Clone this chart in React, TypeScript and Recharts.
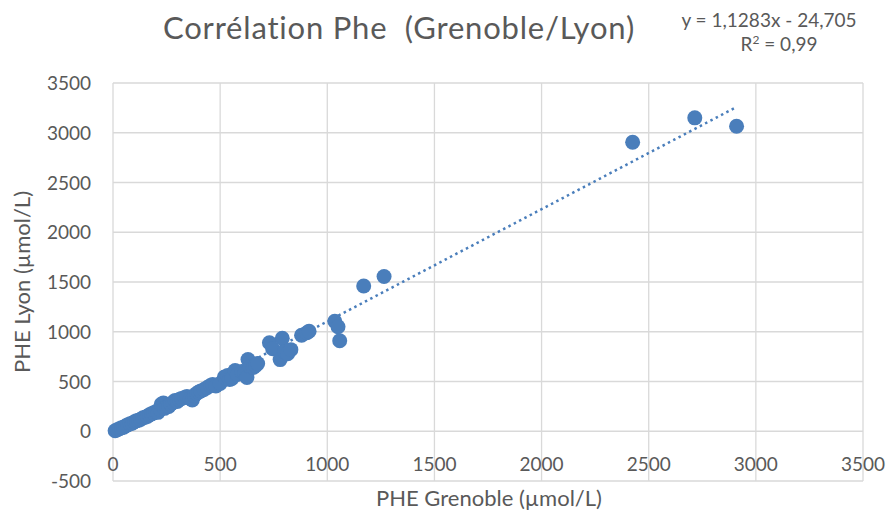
import { ScatterChart, Scatter, XAxis, YAxis, CartesianGrid, ReferenceLine } from "recharts"

// PHE measured in Grenoble (x) vs Lyon (y), µmol/L
const grenoble = [
  10, 20, 30, 40, 50, 60, 70, 80, 90, 100, 110, 120, 130, 140, 150, 160, 170, 180, 190, 200,
  210, 220, 225, 235, 240, 250, 260, 270, 280, 290, 300, 310, 320, 335, 345, 360, 370, 380, 390, 400,
  410, 425, 440, 455, 465, 480, 500, 520, 535, 545, 555, 570, 580, 600, 615, 625, 630, 640, 655, 665,
  675, 730, 745, 780, 790, 800, 815, 830, 880, 905, 915, 1035, 1050, 1058, 1170, 1265, 2425, 2715, 2910,
]
const lyon = [
  5, 15, 25, 35, 40, 55, 65, 75, 80, 95, 105, 110, 120, 135, 140, 150, 165, 175, 185, 195,
  190, 220, 270, 285, 230, 245, 250, 275, 290, 310, 300, 320, 330, 340, 350, 330, 315, 360, 380, 395,
  405, 420, 440, 460, 470, 455, 480, 545, 560, 520, 530, 610, 570, 600, 580, 540, 720, 650, 640, 660,
  680, 890, 830, 720, 935, 800, 780, 820, 965, 990, 1005, 1105, 1050, 910, 1460, 1555, 2905, 3150, 3065,
]

const xTicks = [0, 500, 1000, 1500, 2000, 2500, 3000, 3500]
const yTicks = [-500, 0, 500, 1000, 1500, 2000, 2500, 3000, 3500]

// linear trend shown on the chart
const slope = 1.1283
const intercept = -24.705

const FONT = "Lato, 'Open Sans', sans-serif"
const TEXT = "#595959"
const BLUE = "#4a7ebb"

export default function App() {
  const data = grenoble.map((g, i) => ({ x: g, y: lyon[i] }))
  const xMin = Math.min(...grenoble)
  const xMax = Math.max(...grenoble)

  return (
    <div style={{ position: "relative", width: 891, height: 515, background: "#fff", fontFamily: FONT }}>
      <style>{"body{margin:0}"}</style>
      <div style={{ position: "absolute", left: 163, top: 8, fontSize: 31, color: TEXT, whiteSpace: "pre", letterSpacing: 0.8 }}>
        {"Corrélation Phe  (Grenoble/Lyon)"}
      </div>
      <div style={{ position: "absolute", left: 669, width: 200, top: 8, fontSize: 19, color: TEXT, textAlign: "center", lineHeight: "24px" }}>
        <div>y = 1,1283x - 24,705</div>
        <div style={{ paddingLeft: 20 }}>
          R<sup style={{ fontSize: 12, lineHeight: 0 }}>2</sup> = 0,99
        </div>
      </div>
      <div style={{ position: "absolute", left: 289, width: 400, top: 484, textAlign: "center", fontSize: 22, color: TEXT, whiteSpace: "nowrap" }}>
        PHE Grenoble (µmol/L)
      </div>
      <div
        style={{
          position: "absolute",
          left: 21,
          top: 282,
          transform: "translate(-50%, -50%) rotate(-90deg)",
          fontSize: 22,
          color: TEXT,
          whiteSpace: "nowrap",
        }}
      >
        PHE Lyon (µmol/L)
      </div>
      <ScatterChart width={891} height={515} margin={{ top: 83, right: 28, bottom: 0, left: 23 }} style={{ position: "absolute", left: 0, top: 0 }}>
        <CartesianGrid stroke="#d9d9d9" strokeWidth={1.3} />
        <XAxis
          type="number"
          dataKey="x"
          domain={[0, 3500]}
          ticks={xTicks}
          height={34}
          axisLine={false}
          tickLine={false}
          tickSize={0}
          tickMargin={0}
          tick={(p: any) => (
            <text x={p.x} y={p.y} dy={-10} textAnchor="middle" fill={TEXT} fontSize={19} fontFamily={FONT}>
              {p.payload.value}
            </text>
          )}
        />
        <YAxis
          type="number"
          dataKey="y"
          domain={[-500, 3500]}
          ticks={yTicks}
          width={90}
          axisLine={false}
          tickLine={false}
          tickSize={0}
          tickMargin={0}
          tick={(p: any) => (
            <text x={p.x - 22} y={p.y} dy={7} textAnchor="end" fill={TEXT} fontSize={19} fontFamily={FONT}>
              {p.payload.value}
            </text>
          )}
        />
        <ReferenceLine
          segment={[
            { x: xMin, y: slope * xMin + intercept },
            { x: xMax, y: slope * xMax + intercept },
          ]}
          stroke={BLUE}
          strokeWidth={2.5}
          strokeDasharray="2.5 3.5"
        />
        <Scatter
          data={data}
          isAnimationActive={false}
          shape={(p: any) => <circle cx={p.cx} cy={p.cy} r={7.5} fill={BLUE} />}
        />
      </ScatterChart>
    </div>
  )
}
